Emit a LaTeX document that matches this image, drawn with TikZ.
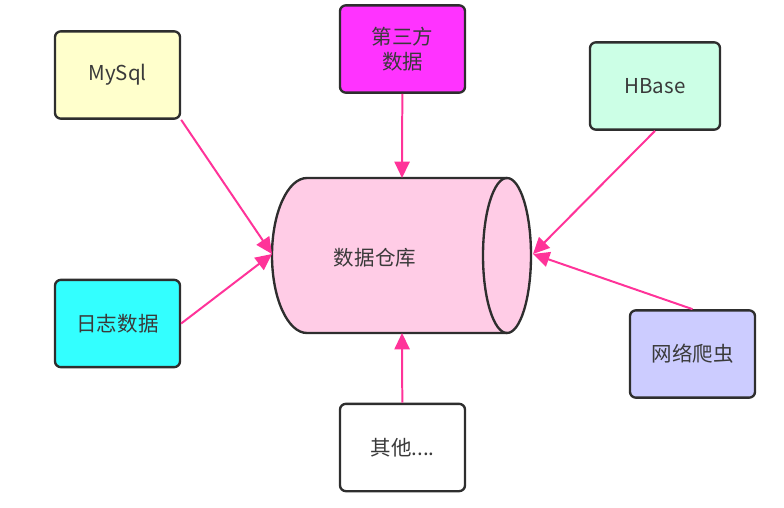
\documentclass[tikz,border=0pt]{standalone}
\usepackage{fontspec}
\setmainfont{Noto Sans CJK SC}
\usetikzlibrary{arrows.meta,positioning,shapes.geometric}
\definecolor{boxline}{HTML}{2E2E2E}
\definecolor{textgray}{HTML}{3A3A3A}
\definecolor{arrowpink}{HTML}{FF3399}
\definecolor{sqlyellow}{HTML}{FFFFCC}
\definecolor{thirdmag}{HTML}{FF33FF}
\definecolor{hbasemint}{HTML}{CCFFE6}
\definecolor{logcyan}{HTML}{33FFFF}
\definecolor{crawlblue}{HTML}{CCCCFF}
\definecolor{whpink}{HTML}{FFCCE6}

\begin{document}
\begin{tikzpicture}[x=0.03cm, y=-0.03cm, >={Triangle[length=14pt,width=13pt]},
  font=\fontsize{17.5}{21}\selectfont, text=textgray,
  src/.style={draw=boxline, line width=2pt, rounded corners=5pt, minimum width=3.75cm, minimum height=2.62cm, align=center},
  feed/.style={->, draw=arrowpink, line width=1.7pt}]
  \useasboundingbox (0,0) rectangle (784,508);

  % data warehouse, drawn as a lying cylinder
  \filldraw[fill=whpink, draw=boxline, line width=2pt]
    (507,178) -- (307,178) arc (-90:-270:35 and 77.5) -- (507,333) arc (90:-90:24 and 77.5) -- cycle;
  \draw[boxline, line width=2pt] (507,178) arc (-90:-270:24 and 77.5);
  \node (wh) at (375,258) {数据仓库};
  \coordinate (whW) at (272,254);
  \coordinate (whE) at (533,254);
  \coordinate (whN) at (402,178);
  \coordinate (whS) at (402,333);

  % sources
  \node[src, fill=sqlyellow] (mysql) at (117.5,75) {MySql};
  \node[src, fill=thirdmag] (third) at (402.5,49) {第三方\\数据};
  \node[src, fill=hbasemint, minimum width=3.9cm] (hbase) at (655,86) {HBase};
  \node[src, fill=logcyan] (logs) at (117.5,323.5) {日志数据};
  \node[src, fill=crawlblue] (crawler) at (692.5,354) {网络爬虫};
  \node[src, fill=white] (other) at (402.5,447.5) {其他....};

  \draw[feed] (mysql.south east) -- (whW);
  \draw[feed] (logs.east) -- (whW);
  \draw[feed] (third) -- (whN);
  \draw[feed] (other) -- (whS);
  \draw[feed] (hbase.south) -- (whE);
  \draw[feed] (crawler.north) -- (whE);
\end{tikzpicture}
\end{document}
